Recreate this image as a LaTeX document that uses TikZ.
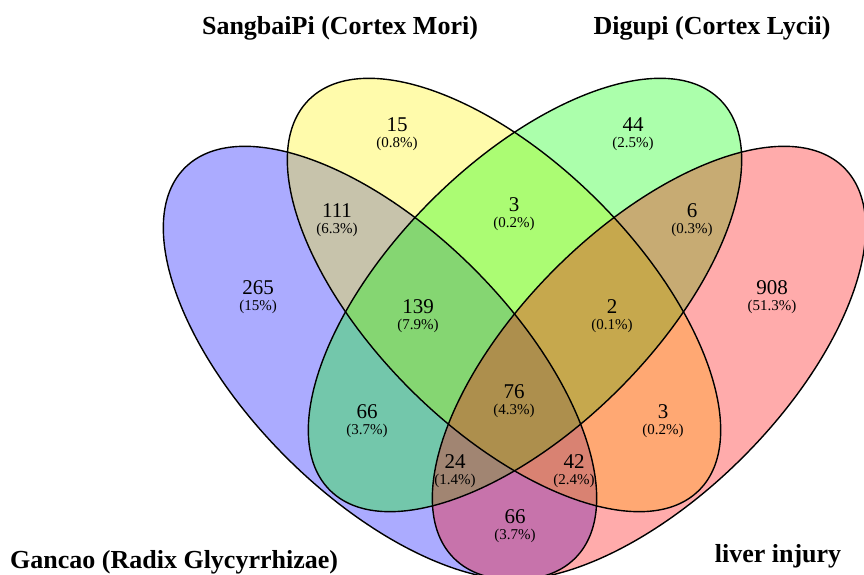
\documentclass[tikz,border=0pt]{standalone}
\usepackage{fontspec}
\setmainfont{Liberation Serif}
\usepackage{tikz}

\newcommand{\pcnt}[1]{{\fontsize{15}{16}\selectfont(#1\%)}}

\begin{document}
\begin{tikzpicture}[x=1pt,y=1pt,
  petal/.style={fill opacity=0.33},
  rim/.style={line width=1.4pt},
  cnt/.style={align=center,inner sep=0pt,font=\fontsize{21}{16}\selectfont},
  ttl/.style={inner sep=0pt,font=\fontsize{26}{26}\selectfont\bfseries}]
 \useasboundingbox (0,0) rectangle (864,575);
 \clip (0,0) rectangle (864,575);
 \coordinate (cGan) at (380,212);
 \coordinate (cSang) at (504,280);
 \coordinate (cDig) at (525,280);
 \coordinate (cLiv) at (649,212);

 \path[fill=blue,petal,rotate around={-45:(cGan)}] (cGan) ellipse [x radius=276pt,y radius=133pt];
 \path[fill=yellow,petal,rotate around={-45:(cSang)}] (cSang) ellipse [x radius=276pt,y radius=133pt];
 \path[fill=green,petal,rotate around={45:(cDig)}] (cDig) ellipse [x radius=276pt,y radius=133pt];
 \path[fill=red,petal,rotate around={45:(cLiv)}] (cLiv) ellipse [x radius=276pt,y radius=133pt];

 \draw[rim,rotate around={-45:(cGan)}] (cGan) ellipse [x radius=276pt,y radius=133pt];
 \draw[rim,rotate around={-45:(cSang)}] (cSang) ellipse [x radius=276pt,y radius=133pt];
 \draw[rim,rotate around={45:(cDig)}] (cDig) ellipse [x radius=276pt,y radius=133pt];
 \draw[rim,rotate around={45:(cLiv)}] (cLiv) ellipse [x radius=276pt,y radius=133pt];
 %%%%%%%%%%%%%%%%%%%%%%%%%%%%%%%%%%%
 \node[cnt] (n15) at (397,441) {15\\\pcnt{0.8}};
 \node[cnt] (n44) at (633,441) {44\\\pcnt{2.5}};
 \node[cnt] (n111) at (337,355) {111\\\pcnt{6.3}};
 \node[cnt] (n3a) at (514,361) {3\\\pcnt{0.2}};
 \node[cnt] (n6) at (692,355) {6\\\pcnt{0.3}};
 \node[cnt] (n265) at (258,278) {265\\\pcnt{15}};
 \node[cnt] (n139) at (418,259) {139\\\pcnt{7.9}};
 \node[cnt] (n2) at (612,259) {2\\\pcnt{0.1}};
 \node[cnt] (n908) at (772,278) {908\\\pcnt{51.3}};
 \node[cnt] (n76) at (514,174) {76\\\pcnt{4.3}};
 \node[cnt] (n66a) at (367,154) {66\\\pcnt{3.7}};
 \node[cnt] (n3b) at (663,154) {3\\\pcnt{0.2}};
 \node[cnt] (n24) at (455,104) {24\\\pcnt{1.4}};
 \node[cnt] (n42) at (574,104) {42\\\pcnt{2.4}};
 \node[cnt] (n66b) at (515,49) {66\\\pcnt{3.7}};

 \node[ttl] (tSang) at (340,547) {SangbaiPi (Cortex Mori)};
 \node[ttl] (tDig) at (712,547) {Digupi (Cortex Lycii)};
 \node[ttl,anchor=west] (tGan) at (10,13) {Gancao (Radix Glycyrrhizae)};
 \node[ttl] (tLiv) at (778,19) {liver injury};
\end{tikzpicture}
\end{document}
